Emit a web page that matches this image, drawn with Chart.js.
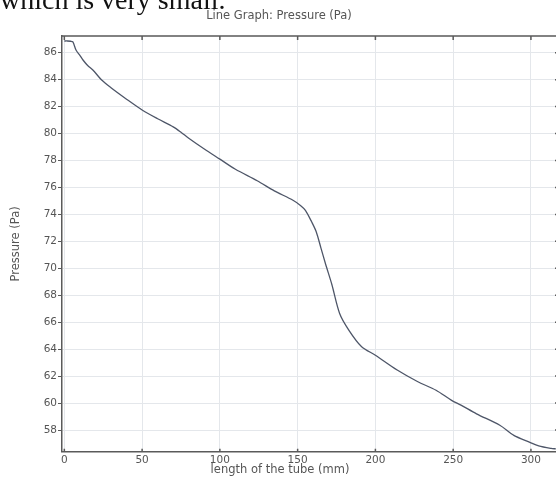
<!DOCTYPE html>
<html>
<head>
<meta charset="utf-8">
<script src="https://cdn.jsdelivr.net/npm/chart.js@4/dist/chart.umd.min.js"></script>
<style>
  html, body { margin: 0; padding: 0; background: #fff; overflow: hidden; }
  #wrap { position: relative; width: 556px; height: 477px; overflow: hidden; }
  #note { position: absolute; left: 0; top: -14px; font-family: "Liberation Serif", serif; font-size: 28px; line-height: 28px; color: #111; white-space: nowrap; }
  canvas { position: absolute; left: 0; top: 0; }
</style>
</head>
<body>
<div id="wrap">
  <canvas id="pressureChart" width="560" height="477"></canvas>
  <div id="note">which is very small.</div>
</div>
<script>
// length along the tube (mm) and pressure (Pa)
const lengthMm = [0, 2, 4, 5.5, 7.5, 10, 12, 15, 18.5, 24, 30, 40, 50, 60, 70, 75, 80, 90, 100, 110, 124, 135, 147, 152, 155, 159, 162, 165, 168, 172, 177, 183, 191, 200, 214, 227, 239, 249, 255, 265, 280, 289, 299, 305, 313, 316];
const pressurePa = [86.87, 86.87, 86.85, 86.8, 86.2, 85.8, 85.46, 85.05, 84.7, 83.97, 83.4, 82.55, 81.75, 81.1, 80.5, 80.1, 79.65, 78.85, 78.1, 77.35, 76.5, 75.75, 75.05, 74.65, 74.3, 73.45, 72.7, 71.5, 70.3, 68.8, 66.65, 65.4, 64.2, 63.55, 62.45, 61.6, 60.95, 60.2, 59.85, 59.2, 58.35, 57.6, 57.1, 56.82, 56.63, 56.6];
const xTicks = [0, 50, 100, 150, 200, 250, 300];
const yTicks = [58, 60, 62, 64, 66, 68, 70, 72, 74, 76, 78, 80, 82, 84, 86];

const axisGrey = '#5a5a5a';
const gridGrey = '#e4e7eb';
const textGrey = '#555';

// top and right frame with small inward ticks, plus the x title centred on the figure
const framePlugin = {
  id: 'frame',
  afterDraw(chart) {
    const { ctx, chartArea: a, scales } = chart;
    ctx.save();
    ctx.strokeStyle = axisGrey;
    ctx.lineWidth = 1.5;
    ctx.beginPath();
    ctx.moveTo(a.left, a.top);
    ctx.lineTo(a.right, a.top);
    ctx.lineTo(a.right, a.bottom);
    ctx.stroke();
    ctx.beginPath();
    xTicks.forEach(v => {
      const px = scales.x.getPixelForValue(v);
      ctx.moveTo(px, a.top);
      ctx.lineTo(px, a.top + 4);
      ctx.moveTo(px, a.bottom);
      ctx.lineTo(px, a.bottom - 3);
    });
    yTicks.forEach(v => {
      const py = scales.y.getPixelForValue(v);
      ctx.moveTo(a.right, py);
      ctx.lineTo(a.right - 3, py);
    });
    ctx.stroke();

    ctx.fillStyle = textGrey;
    ctx.font = '11.5px "DejaVu Sans"';
    ctx.textAlign = 'center';
    ctx.textBaseline = 'middle';
    ctx.fillText('length of the tube (mm)', 280, 470);
    ctx.restore();
  }
};

const pressureChart = new Chart(document.getElementById('pressureChart').getContext('2d'), {
  type: 'line',
  data: {
    datasets: [{
      label: 'Pressure (Pa)',
      data: lengthMm.map((x, i) => ({ x: x, y: pressurePa[i] })),
      borderColor: '#4e5668',
      borderWidth: 1.3,
      pointRadius: 0,
      tension: 0.3,
      fill: false
    }]
  },
  options: {
    responsive: false,
    animation: false,
    layout: { padding: { left: 0, right: 2, top: 0, bottom: 0 } },
    plugins: {
      legend: { display: false },
      tooltip: { enabled: false },
      title: {
        display: true,
        text: 'Line Graph: Pressure (Pa)',
        color: textGrey,
        font: { family: 'DejaVu Sans', size: 11.5, weight: 'normal' },
        padding: { top: 9, bottom: 13.2 }
      }
    },
    scales: {
      x: {
        type: 'linear',
        min: -1.5,
        max: 317.4,
        afterBuildTicks: s => { s.ticks = xTicks.map(v => ({ value: v })); },
        afterFit: s => { s.height = 25.3; },
        grid: { color: gridGrey, drawTicks: false },
        border: { color: axisGrey, width: 1.5 },
        ticks: { color: textGrey, padding: 2, maxRotation: 0, font: { family: 'DejaVu Sans', size: 10.5 } },
        title: { display: false }
      },
      y: {
        min: 56.39,
        max: 87.24,
        afterBuildTicks: s => { s.ticks = yTicks.map(v => ({ value: v })); },
        afterFit: s => { s.width = 62; },
        grid: { color: gridGrey, tickLength: 4, tickColor: axisGrey },
        border: { color: axisGrey, width: 1.5 },
        ticks: { color: textGrey, padding: 1, font: { family: 'DejaVu Sans', size: 10.5 } },
        title: {
          display: true,
          text: 'Pressure (Pa)',
          color: textGrey,
          padding: { top: 9, bottom: 0 },
          font: { family: 'DejaVu Sans', size: 11.5 }
        }
      }
    }
  },
  plugins: [framePlugin]
});
</script>
</body>
</html>
